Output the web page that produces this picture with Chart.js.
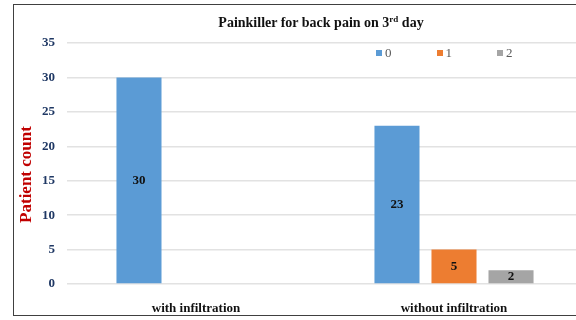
<!DOCTYPE html>
<html>
<head>
<meta charset="utf-8">
<script src="https://cdn.jsdelivr.net/npm/chart.js@4/dist/chart.umd.min.js"></script>
<style>
  html, body { margin: 0; padding: 0; width: 576px; height: 320px; overflow: hidden; background: #fff; }
  #frame { position: absolute; left: 13px; top: 4px; width: 640px; height: 312px; border: 1.5px solid #404040; box-sizing: border-box; }
  #chart { position: absolute; left: 0; top: 0; }
  #title { position: absolute; left: 0; top: 14px; width: 642px; text-align: center;
           font: bold 14px "Liberation Serif", "Times New Roman", serif; line-height: 17px; color: #111; }
  #title sup { font-size: 9px; vertical-align: 5px; line-height: 0; }
  #legend { position: absolute; left: 376px; top: 46px; height: 14px; }
  .item { position: absolute; top: 0; white-space: nowrap;
          font: 13px "Liberation Serif", "Times New Roman", serif; color: #595959; line-height: 14px; }
  .sw { display: inline-block; width: 6px; height: 6px; margin-right: 3px; vertical-align: 1px; }
</style>
</head>
<body>
<div id="frame"></div>
<canvas id="chart" width="600" height="320"></canvas>
<div id="title">Painkiller for back pain on 3<sup>rd</sup> day</div>
<div id="legend"></div>
<script>
// Groups on the x axis
const categories = ['with infiltration', 'without infiltration'];
// Patient counts per painkiller dose (0, 1, 2)
const seriesNames = ['0', '1', '2'];
const dose0 = [30, 23];
const dose1 = [0, 5];
const dose2 = [0, 2];
const seriesColors = ['#5B9BD5', '#ED7D31', '#A5A5A5'];
// Y axis range and title
const yMin = 0, yMax = 35, yStep = 5;
const yTitle = 'Patient count';

const serif = '"Liberation Serif", "Times New Roman", serif';
const seriesValues = [dose0, dose1, dose2];

// Value labels centred inside each bar
const barLabels = {
  id: 'barLabels',
  afterDatasetsDraw(chart) {
    const ctx = chart.ctx;
    ctx.save();
    ctx.font = 'bold 13px ' + serif;
    ctx.fillStyle = '#111';
    ctx.textAlign = 'center';
    ctx.textBaseline = 'middle';
    chart.data.datasets.forEach((ds, i) => {
      const meta = chart.getDatasetMeta(i);
      meta.data.forEach((bar, j) => {
        const v = ds.data[j];
        if (!v) return;
        ctx.fillText(String(v), bar.x, (bar.y + bar.base) / 2);
      });
    });
    ctx.restore();
  }
};

// Rotated y axis title, sitting a little below the axis middle
const yAxisTitle = {
  id: 'yAxisTitle',
  afterDraw(chart) {
    const ctx = chart.ctx;
    const a = chart.chartArea;
    ctx.save();
    ctx.translate(27, (a.top + a.bottom) / 2 + 11);
    ctx.rotate(-Math.PI / 2);
    ctx.font = 'bold 17px ' + serif;
    ctx.fillStyle = '#C00000';
    ctx.textAlign = 'center';
    ctx.textBaseline = 'middle';
    ctx.fillText(yTitle, 0, 0);
    ctx.restore();
  }
};

new Chart(document.getElementById('chart'), {
  type: 'bar',
  data: {
    labels: categories,
    datasets: seriesNames.map((name, i) => ({
      label: name,
      data: seriesValues[i],
      backgroundColor: seriesColors[i],
      borderWidth: 0,
      categoryPercentage: 0.663,
      barPercentage: 0.79
    }))
  },
  options: {
    responsive: false,
    animation: false,
    devicePixelRatio: 1,
    layout: { padding: { left: 18, top: 43, right: 17, bottom: 6 } },
    plugins: {
      legend: { display: false },
      title: { display: false },
      tooltip: { enabled: false }
    },
    scales: {
      x: {
        grid: { display: false },
        border: { display: false },
        ticks: { font: { family: serif, size: 13, weight: 'bold' }, color: '#111', padding: 9 },
        afterFit(scale) { scale.height = 30; }
      },
      y: {
        min: yMin,
        max: yMax,
        ticks: { stepSize: yStep, font: { family: serif, size: 13, weight: 'bold' }, color: '#1F3864', padding: 12 },
        grid: { color: '#E2E2E2', lineWidth: 1.5, drawTicks: false },
        border: { display: false },
        afterFit(scale) { scale.width = 49; }
      }
    }
  },
  plugins: [barLabels, yAxisTitle]
});

// Legend row
const legend = document.getElementById('legend');
seriesNames.forEach((name, i) => {
  const el = document.createElement('div');
  el.className = 'item';
  el.style.left = (i * 60.5) + 'px';
  const sw = document.createElement('span');
  sw.className = 'sw';
  sw.style.background = seriesColors[i];
  el.appendChild(sw);
  el.appendChild(document.createTextNode(name));
  legend.appendChild(el);
});
</script>
</body>
</html>
